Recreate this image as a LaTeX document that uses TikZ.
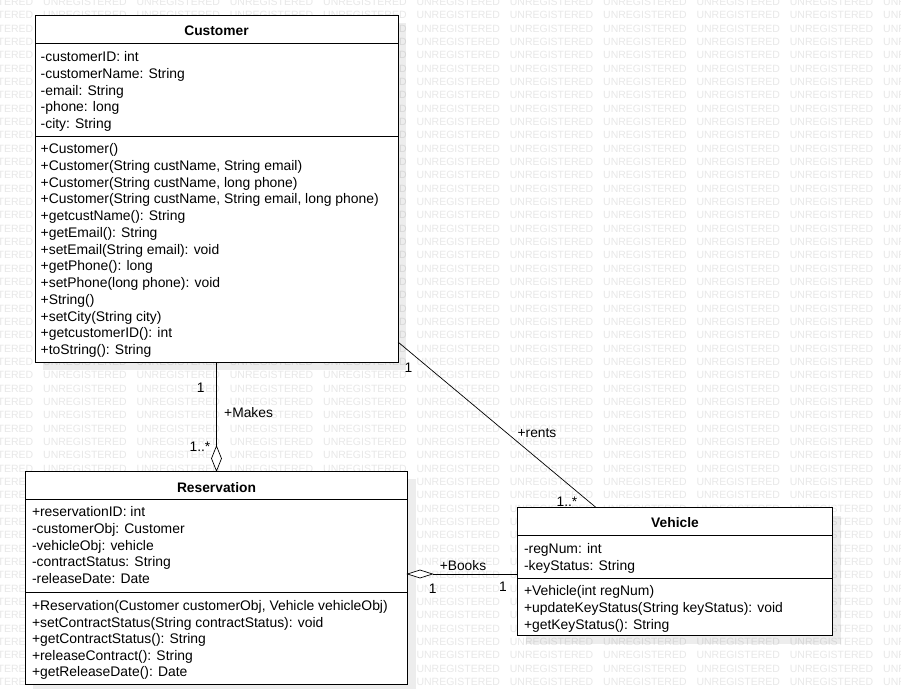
\documentclass[tikz,border=0pt]{standalone}
\usepackage{fontspec}
\setmainfont{Liberation Sans}
\begin{document}
\begin{tikzpicture}[x=1pt,y=-1pt]
\tikzset{
  wm/.style={text=black!9, font=\fontsize{10.5}{12}\selectfont, inner sep=0pt, anchor=base west},
  classbox/.style={draw=black, fill=white, line width=0.8pt, anchor=north west, inner sep=0pt, outer sep=0pt},
  shade8/.style={fill=black, fill opacity=0.07},
  divider/.style={line width=0.8pt},
  member/.style={font=\fontsize{13.9}{16}\selectfont, inner sep=0pt, anchor=base west},
  title/.style={font=\bfseries\fontsize{13.8}{16}\selectfont, inner sep=0pt, anchor=base},
  lbl/.style={font=\fontsize{13.8}{16}\selectfont, inner sep=0pt, anchor=base},
  conn/.style={line width=0.7pt},
  diam/.style={line width=0.7pt, fill=white}
}
\useasboundingbox (0,0) rectangle (901,688);
\fill[white] (0,0) rectangle (901,688);
% watermark
\foreach \r in {0,...,51} {
  \foreach \c in {-1,...,9} {
    \node[wm] (wm-\r-\c) at ({43+93.33*\c},{5.4+13.333*\r}) {UNREGISTERED};
  }
}
% shadows
\fill[shade8] (43,23) rectangle (406,370);
\fill[shade8] (33,479) rectangle (415.5,692);
\fill[shade8] (525.5,515.5) rectangle (840.5,643.7);
% boxes
\node[classbox, minimum width=363pt, minimum height=347pt] (cust) at (35,15) {};
\node[classbox, minimum width=382pt, minimum height=213pt] (res) at (25.5,471) {};
\node[classbox, minimum width=315pt, minimum height=128.2pt] (veh) at (517.5,507.5) {};
% dividers
\draw[divider] (35,43.3) -- (398,43.3);
\draw[divider] (35,136.3) -- (398,136.3);
\draw[divider] (25.5,499) -- (407.5,499);
\draw[divider] (25.5,592.5) -- (407.5,592.5);
\draw[divider] (517.5,535.3) -- (832.5,535.3);
\draw[divider] (517.5,578.3) -- (832.5,578.3);
% titles
\node[title] (cust-t) at (216.5,35.8) {Customer};
\node[title] (res-t) at (216.5,492) {Reservation};
\node[title] (veh-t) at (675,527.1) {Vehicle};
% Customer members
\foreach \t [count=\i from 0] in {-customerID: int,-customerName: String,-email: String,-phone: long,-city: String} {
  \node[member] (ca-\i) at (40.5,{61.4+16.83*\i}) {\t};
}
\foreach \t [count=\i from 0] in {+Customer(),{+Customer(String custName, String email)},{+Customer(String custName, long phone)},{+Customer(String custName, String email, long phone)},+getcustName(): String,+getEmail(): String,+setEmail(String email): void,+getPhone(): long,+setPhone(long phone): void,+String(),+setCity(String city),+getcustomerID(): int,+toString(): String} {
  \node[member] (cm-\i) at (40.5,{153.7+16.75*\i}) {\t};
}
% Reservation members
\foreach \t [count=\i from 0] in {+reservationID: int,-customerObj: Customer,-vehicleObj: vehicle,-contractStatus: String,-releaseDate: Date} {
  \node[member] (ra-\i) at (31.8,{516.7+16.75*\i}) {\t};
}
\foreach \t [count=\i from 0] in {{+Reservation(Customer customerObj, Vehicle vehicleObj)},+setContractStatus(String contractStatus): void,+getContractStatus(): String,+releaseContract(): String,+getReleaseDate(): Date} {
  \node[member] (rm-\i) at (31.8,{610.4+16.6*\i}) {\t};
}
% Vehicle members
\foreach \t [count=\i from 0] in {-regNum: int,-keyStatus: String} {
  \node[member] (va-\i) at (523.8,{553.7+16.7*\i}) {\t};
}
\foreach \t [count=\i from 0] in {+Vehicle(int regNum),+updateKeyStatus(String keyStatus): void,+getKeyStatus(): String} {
  \node[member] (vm-\i) at (523.8,{595.7+16.65*\i}) {\t};
}
% connectors
\coordinate (mktop) at ([yshift=25pt]res.north);
\draw[conn] (cust.south) -- (mktop);
\draw[diam] (res.north) -- ++(5,-12.5) -- ++(-5,-12.5) -- ++(-5,12.5) -- cycle;
\coordinate (rs) at ([yshift=20pt]cust.south east);
\coordinate (rv) at ([xshift=78.5pt]veh.north west);
\draw[conn] (rs) -- (rv);
\coordinate (bk) at ([yshift=3.5pt]res.east);
\coordinate (bkr) at ([xshift=25pt]bk);
\draw[conn] (bkr) -- (veh.west |- bk);
\draw[diam] (bk) -- ++(12.5,-4) -- ++(12.5,4) -- ++(-12.5,4) -- cycle;
% labels
\node[lbl] (l-mk1) at (200.8,392.5) {1};
\node[lbl, anchor=base west] (l-mk) at (224,417.8) {+Makes};
\node[lbl] (l-mk2) at (200,451.7) {1..*};
\node[lbl] (l-rt1) at (408.5,372.8) {1};
\node[lbl] (l-rt) at (537,437.8) {+rents};
\node[lbl] (l-rt2) at (567,506.8) {1..*};
\node[lbl] (l-bk) at (463,570.5) {+Books};
\node[lbl] (l-bk1) at (432.7,593.1) {1};
\node[lbl] (l-bk2) at (503,591.5) {1};
\end{tikzpicture}
\end{document}
